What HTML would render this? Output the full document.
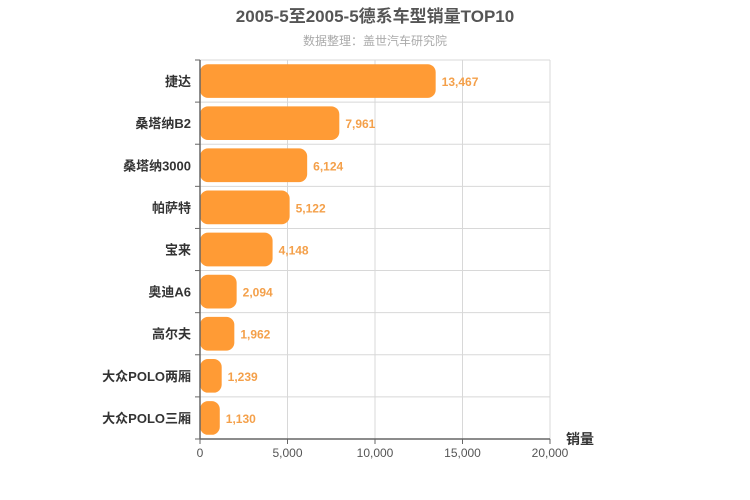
<!DOCTYPE html>
<html><head><meta charset="utf-8">
<style>
body{margin:0;background:#fff;}
svg{display:block;font-family:"Liberation Sans","Noto Sans CJK SC",sans-serif;}
</style></head>
<body>
<svg id="chart" width="750" height="500" viewBox="0 0 750 500">
<text x="375" y="22" text-anchor="middle" font-size="17" font-weight="bold" fill="#555">2005-5至2005-5德系车型销量TOP10</text>
<text x="375" y="45" text-anchor="middle" font-size="12" fill="#aaa">数据整理：盖世汽车研究院</text>
<g id="grid"></g><g id="bars"></g><g id="axes"></g>
<text x="580" y="444" text-anchor="middle" font-size="14" font-weight="bold" fill="#333">销量</text>
</svg>
<script>
const categories=["捷达","桑塔纳B2","桑塔纳3000","帕萨特","宝来","奥迪A6","高尔夫","大众POLO两厢","大众POLO三厢"];
const values=[13467,7961,6124,5122,4148,2094,1962,1239,1130];
const ticks=[0,5000,10000,15000,20000];
const NS="http://www.w3.org/2000/svg";
const X0=200,X1=550,Y0=60,Y1=439,MAX=20000;
const rowH=(Y1-Y0)/categories.length;
const x=v=>X0+(v/MAX)*(X1-X0);
const fmt=v=>v.toLocaleString('en-US');
function mk(t,a,p){const e=document.createElementNS(NS,t);for(const k in a)e.setAttribute(k,a[k]);p.appendChild(e);return e;}
const grid=document.getElementById('grid'),bars=document.getElementById('bars'),axes=document.getElementById('axes');
ticks.forEach(t=>{
  const l=mk('line',{x1:x(t),x2:x(t),y1:Y0,y2:Y1,stroke:'#d8d8d8','stroke-width':1},grid);
  
  
  const tk=mk('line',{x1:x(t),x2:x(t),y1:Y1,y2:Y1+5,stroke:'#666'},axes);
  
  
  const tx=mk('text',{x:x(t),y:Y1+18,'text-anchor':'middle','font-size':12,fill:'#555'},axes);
  tx.textContent=fmt(t);
  
  
});
for(let i=0;i<=categories.length;i++){
  const y=Y0+i*rowH;
  if(i<categories.length){const g=mk('line',{x1:X0,x2:X1,y1:y,y2:y,stroke:'#d8d8d8'},grid);
  
  }
  const tk=mk('line',{x1:X0-5,x2:X0,y1:y,y2:y,stroke:'#666'},axes);
  
  
}
categories.forEach((c,i)=>{
  const cy=Y0+(i+0.5)*rowH,bh=rowH*0.8;
  const w=x(values[i])-X0;
  const r=mk('rect',{x:X0,y:cy-bh/2,width:w,height:bh,rx:Math.min(8,w/2),fill:'#ff9b35'},bars);
  
  
  const v=mk('text',{x:x(values[i])+6,y:cy+5,'font-size':12,fill:'#f4a04a','font-weight':'bold'},bars);
  v.textContent=fmt(values[i]);
  
  
  const lb=mk('text',{x:X0-9,y:cy+5,'text-anchor':'end','font-size':13,'font-weight':'bold',fill:'#333'},axes);
  lb.textContent=c;
  
  
});
const ya=mk('line',{x1:X0,x2:X0,y1:Y0,y2:Y1,stroke:'#666','stroke-width':1.5},axes);


const xa=mk('line',{x1:X0,x2:X1,y1:Y1,y2:Y1,stroke:'#666','stroke-width':1.5},axes);


</script>
</body></html>
